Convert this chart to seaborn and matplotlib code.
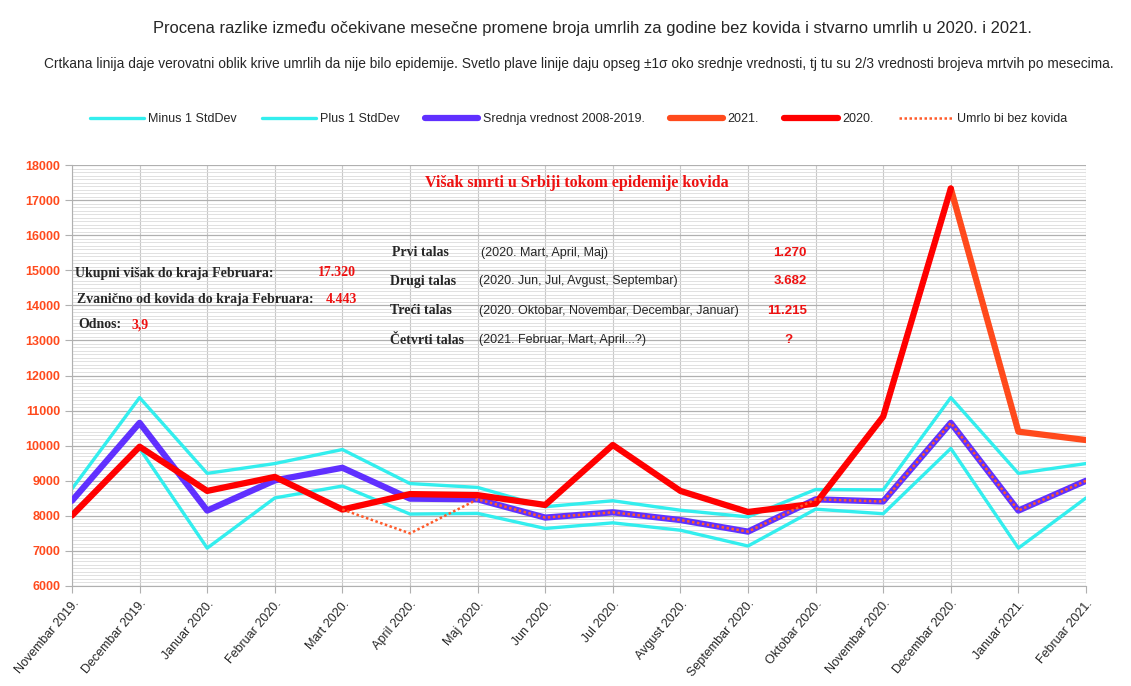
import matplotlib.pyplot as plt
import seaborn as sns
import pandas as pd
import numpy as np
from matplotlib.ticker import MultipleLocator

# Months on the x axis
months = ['Novembar 2019.', 'Decembar 2019.', 'Januar 2020.', 'Februar 2020.',
          'Mart 2020.', 'April 2020.', 'Maj 2020.', 'Jun 2020.', 'Jul 2020.',
          'Avgust 2020.', 'Septembar 2020.', 'Oktobar 2020.', 'Novembar 2020.',
          'Decembar 2020.', 'Januar 2021.', 'Februar 2021.']

# Series values
minus_std = [8080, 9920, 7080, 8510, 8850, 8050, 8070, 7640, 7800, 7590, 7140,
             8190, 8060, 9920, 7080, 8510]
plus_std = [8770, 11370, 9210, 9490, 9890, 8920, 8810, 8260, 8430, 8160, 7970,
            8750, 8740, 11370, 9210, 9490]
mean_0819 = [8430, 10650, 8150, 9010, 9370, 8490, 8470, 7950, 8100, 7880, 7550,
             8470, 8410, 10650, 8150, 9000]
y2021 = [np.nan] * 13 + [17330, 10400, 10160]
y2020 = [8010, 9970, 8710, 9110, 8180, 8620, 8590, 8310, 10020, 8710, 8110,
         8350, 10830, 17330, np.nan, np.nan]
no_covid = [np.nan] * 4 + [8180, 7500, 8470, 7950, 8100, 7880, 7550, 8470,
                           8410, 10650, 8150, 9000]

df = pd.DataFrame({
    'x': range(len(months)),
    'Minus 1 StdDev': minus_std,
    'Plus 1 StdDev': plus_std,
    'Srednja vrednost 2008-2019.': mean_0819,
    '2021.': y2021,
    '2020.': y2020,
    'Umrlo bi bez kovida': no_covid,
})

sns.set_style('white')
plt.rcParams['font.family'] = ['Liberation Sans', 'DejaVu Sans']

fig = plt.figure(figsize=(11.31, 6.86), dpi=100)
ax = fig.add_axes([72 / 1131, 1 - 586 / 686, (1086 - 72) / 1131, (586 - 165) / 686])

styles = [
    ('Minus 1 StdDev', '#33eeee', 2.4, '-', 2),
    ('Plus 1 StdDev', '#33eeee', 2.4, '-', 2),
    ('Srednja vrednost 2008-2019.', '#6030ff', 4.5, '-', 3),
    ('2021.', '#ff4a1c', 4.5, '-', 4),
    ('2020.', '#ff0000', 4.5, '-', 5),
    ('Umrlo bi bez kovida', '#ff5a2a', 1.8, (0, (1, 1)), 6),
]
for name, col, lw, ls, z in styles:
    sns.lineplot(data=df, x='x', y=name, ax=ax, color=col, linewidth=lw,
                 linestyle=ls, label=name, zorder=z)

ax.set_xlim(0, len(months) - 1)
ax.set_ylim(6000, 18000)
ax.yaxis.set_major_locator(MultipleLocator(1000))
ax.yaxis.set_minor_locator(MultipleLocator(100))
ax.set_xticks(range(len(months)))
ax.set_xticklabels(months, rotation=50, ha='right', rotation_mode='anchor', fontsize=9)
ax.set_xlabel('')
ax.set_ylabel('')
ax.grid(which='major', axis='y', color='#b0b0b0', linewidth=0.9)
ax.grid(which='minor', axis='y', color='#dcdcdc', linewidth=0.6)
ax.grid(which='major', axis='x', color='#c8c8c8', linewidth=0.8)
ax.set_axisbelow(True)
for lab in ax.get_yticklabels():
    lab.set_color('#ff4a1c')
    lab.set_fontweight('bold')
    lab.set_fontsize(9)
ax.tick_params(axis='both', which='major', length=5, color='#b0b0b0', direction='out',
               left=True, bottom=True)
ax.tick_params(axis='y', which='minor', length=0)
for s in ['top', 'right']:
    ax.spines[s].set_visible(False)
for s in ['left', 'bottom']:
    ax.spines[s].set_color('#b0b0b0')

handles, labels = ax.get_legend_handles_labels()
ax.get_legend().remove()
fig.legend(handles, labels, loc='center', bbox_to_anchor=(0.5115, 1 - 119 / 686), ncol=6,
           frameon=False, fontsize=9, handlelength=4.3, columnspacing=2.0, handletextpad=0.35)

# Titles
fig.text(592 / 1131, 1 - 28 / 686,
         'Procena razlike između očekivane mesečne promene broja umrlih za godine bez kovida i stvarno umrlih u 2020. i 2021.',
         ha='center', va='center', fontsize=11.9)
fig.text(578.5 / 1131, 1 - 64 / 686,
         'Crtkana linija daje verovatni oblik krive umrlih da nije bilo epidemije. Svetlo plave linije daju opseg ±1σ oko srednje vrednosti, tj tu su 2/3 vrednosti brojeva mrtvih po mesecima.',
         ha='center', va='center', fontsize=9.9)

serif = ['Liberation Serif', 'DejaVu Serif']


def ftext(x, y, s, **kw):
    fig.text(x / 1131, 1 - y / 686, s, va='center', **kw)


ftext(577, 183, 'Višak smrti u Srbiji tokom epidemije kovida', ha='center',
      family=serif, fontweight='bold', color='#ee1111', fontsize=11.5)

ftext(75, 273, 'Ukupni višak do kraja Februara:', family=serif, fontweight='bold', fontsize=10)
ftext(318, 273, '17.320', family=serif, fontweight='bold', fontsize=10, color='#ee1111')
ftext(77, 299, 'Zvanično od kovida do kraja Februara:', family=serif, fontweight='bold', fontsize=10)
ftext(326, 299, '4.443', family=serif, fontweight='bold', fontsize=10, color='#ee1111')
ftext(78, 325, 'Odnos:', family=serif, fontweight='bold', fontsize=10)
ftext(131, 325, '3,9', family=serif, fontweight='bold', fontsize=10, color='#ee1111')

waves = [('Prvi talas', '(2020. Mart, April, Maj)', '1.270', 392, 253),
         ('Drugi talas', '(2020. Jun, Jul, Avgust, Septembar)', '3.682', 390, 281),
         ('Treći talas', '(2020. Oktobar, Novembar, Decembar, Januar)', '11.215', 390, 311),
         ('Četvrti talas', '(2021. Februar, Mart, April...?)', '?', 390, 340)]
for name, months_txt, val, xx, yy in waves:
    ftext(xx, yy, name, family=serif, fontweight='bold', fontsize=10)
    ftext(xx + 89, yy, months_txt, fontsize=9)
    if val == '?':
        ftext(788, yy, val, ha='center', fontweight='bold', fontsize=9.5, color='#ee1111')
    else:
        ftext(807, yy, val, ha='right', fontweight='bold', fontsize=9.5, color='#ee1111')

fig.savefig('out.png', dpi=100)
